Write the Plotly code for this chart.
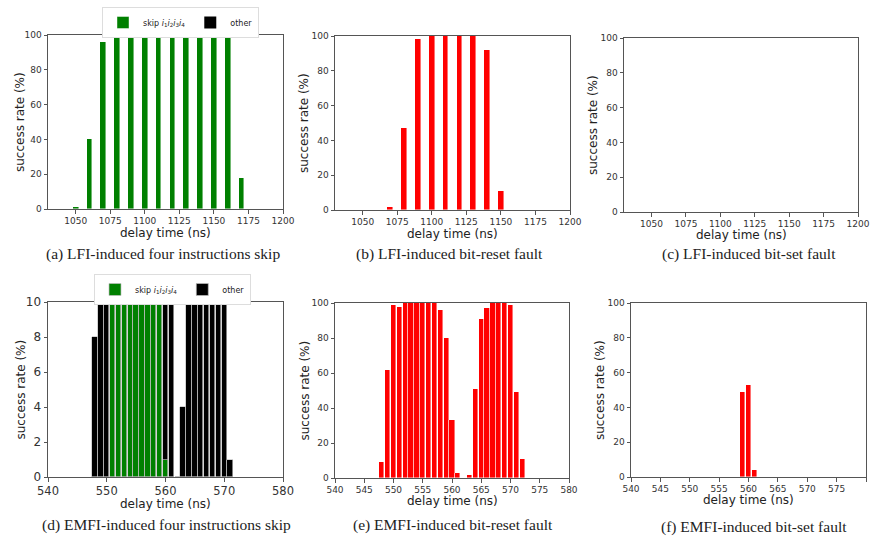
import plotly.graph_objects as go

# ---------------- data ----------------
lfi_delays = [1050, 1060, 1070, 1080, 1090, 1100, 1110, 1120, 1130, 1140, 1150, 1160, 1170]
lfi_skip = [1, 40, 96, 100, 100, 100, 100, 100, 100, 100, 100, 100, 18]
lfi_other = [0, 0, 0, 0, 0, 0, 0, 0, 0, 0, 0, 0, 0]

lfi_reset_delays = [1070, 1080, 1090, 1100, 1110, 1120, 1130, 1140, 1150]
lfi_reset = [2, 47, 98, 100, 100, 100, 100, 92, 11]

lfi_set_delays = []
lfi_set = []

emfi_delays = [548, 549, 550, 551, 552, 553, 554, 555, 556, 557, 558, 559,
               560, 561, 562, 563, 564, 565, 566, 567, 568, 569, 570, 571]
emfi_skip = [0, 0, 0, 100, 100, 100, 100, 100, 100, 100, 100, 100,
             1, 0, 0, 0, 0, 0, 0, 0, 0, 0, 0, 0]
emfi_other = [8, 60, 97, 0, 0, 0, 0, 0, 0, 0, 0, 0,
              30, 20, 0, 4, 50, 90, 97, 100, 100, 100, 99, 1]

emfi_reset_delays = [548, 549, 550, 551, 552, 553, 554, 555, 556, 557, 558, 559, 560,
                     561, 562, 563, 564, 565, 566, 567, 568, 569, 570, 571, 572]
emfi_reset = [9, 62, 99, 98, 100, 100, 100, 100, 100, 100, 96, 80, 33,
              3, 0, 2, 51, 91, 97, 100, 100, 100, 99, 49, 11]

emfi_set_delays = [559, 560, 561]
emfi_set = [49, 53, 4]

lfi_ticks = [1050, 1075, 1100, 1125, 1150, 1175, 1200]
emfi_ticks_coarse = [540, 550, 560, 570, 580]
emfi_ticks_fine = [540, 545, 550, 555, 560, 565, 570, 575, 580]

captions = [
    "(a) LFI-induced four instructions skip",
    "(b) LFI-induced bit-reset fault",
    "(c) LFI-induced bit-set fault",
    "(d) EMFI-induced four instructions skip",
    "(e) EMFI-induced bit-reset fault",
    "(f) EMFI-induced bit-set fault",
]
x_title = "delay time (ns)"
y_title = "success rate (%)"

SKIP_NAME = "skip <i>i</i><sub>1</sub><i>i</i><sub>2</sub><i>i</i><sub>3</sub><i>i</i><sub>4</sub>"

# ---------------- layout helpers ----------------
W, H = 871, 540

def xd(l, r):
    return [l / W, r / W]

def yd(t, b):
    return [1 - b / H, 1 - t / H]

panels = {
    1: dict(x=(48, 283), y=(35, 209)),
    2: dict(x=(335, 570), y=(36, 210)),
    3: dict(x=(624, 858), y=(38, 212)),
    4: dict(x=(48, 283), y=(302, 477)),
    5: dict(x=(335, 569), y=(303, 478)),
    6: dict(x=(631, 866), y=(303, 477)),
}
# axis-title centres (pixels): x-title y position, y-title x position
xtitle_y = {1: 233, 2: 234, 3: 235, 4: 504, 5: 501, 6: 500}
ytitle_x = {1: 20, 2: 304, 3: 593, 4: 20, 5: 304, 6: 600}

GREEN = "#008000"
RED = "#ff0000"
BLACK = "#000000"
EDGE = "rgba(255,255,255,0.55)"
DEDGE = "rgba(190,190,190,0.85)"

fig = go.Figure()

def ax(n):
    return ("x" if n == 1 else f"x{n}"), ("y" if n == 1 else f"y{n}")

# (a)
xa, ya = ax(1)
fig.add_trace(go.Bar(x=lfi_delays, y=lfi_skip, width=4.2, marker=dict(color=GREEN, line=dict(color=EDGE, width=0.8)),
                     name=SKIP_NAME, xaxis=xa, yaxis=ya, legend="legend"))
fig.add_trace(go.Bar(x=lfi_delays, y=lfi_other, width=4.2, marker=dict(color=BLACK, line=dict(width=0)),
                     name="other", xaxis=xa, yaxis=ya, legend="legend"))
# (b)
xa, ya = ax(2)
fig.add_trace(go.Bar(x=lfi_reset_delays, y=lfi_reset, width=4.2, marker=dict(color=RED, line=dict(color=EDGE, width=0.8)),
                     showlegend=False, xaxis=xa, yaxis=ya))
# (c)
xa, ya = ax(3)
fig.add_trace(go.Bar(x=lfi_set_delays, y=lfi_set, width=4.2, marker=dict(color=RED),
                     showlegend=False, xaxis=xa, yaxis=ya))
# (d)
xa, ya = ax(4)
fig.add_trace(go.Bar(x=emfi_delays, y=emfi_skip, width=0.92, marker=dict(color=GREEN, line=dict(color=DEDGE, width=0.8)),
                     name=SKIP_NAME, xaxis=xa, yaxis=ya, legend="legend2"))
fig.add_trace(go.Bar(x=emfi_delays, y=emfi_other, width=0.92, marker=dict(color=BLACK, line=dict(color=DEDGE, width=0.8)),
                     name="other", xaxis=xa, yaxis=ya, legend="legend2"))
# (e)
xa, ya = ax(5)
fig.add_trace(go.Bar(x=emfi_reset_delays, y=emfi_reset, width=0.9, marker=dict(color=RED, line=dict(color=EDGE, width=0.8)),
                     showlegend=False, xaxis=xa, yaxis=ya))
# (f)
xa, ya = ax(6)
fig.add_trace(go.Bar(x=emfi_set_delays, y=emfi_set, width=0.9, marker=dict(color=RED, line=dict(color=EDGE, width=0.8)),
                     showlegend=False, xaxis=xa, yaxis=ya))

AXCOL = "#555555"
TICKCOL = "#333333"
TITLEFONT = dict(family="DejaVu Sans", size=12, color="#222222")

def axis_common(tickfont_size):
    return dict(showline=True, linecolor=AXCOL, linewidth=1, mirror=True,
                ticks="outside", ticklen=3.5, tickcolor=AXCOL, tickwidth=1,
                showgrid=False, zeroline=False, automargin=False,
                tickfont=dict(family="DejaVu Sans", size=tickfont_size, color=TICKCOL))

layout = dict(
    width=W, height=H, margin=dict(l=0, r=0, t=0, b=0, autoexpand=False),
    paper_bgcolor="white", plot_bgcolor="white", barmode="stack", bargap=0,
    font=dict(family="DejaVu Sans"),
)

xconf = {
    1: dict(range=[1030, 1200], tickvals=lfi_ticks, fs=9),
    2: dict(range=[1030, 1200], tickvals=lfi_ticks, fs=9),
    3: dict(range=[1030, 1200], tickvals=lfi_ticks, fs=9),
    4: dict(range=[540, 580], tickvals=emfi_ticks_coarse, fs=11.5),
    5: dict(range=[540, 580], tickvals=emfi_ticks_fine, fs=9),
    6: dict(range=[540, 580], tickvals=emfi_ticks_fine, fs=9),
}
yconf = {
    1: dict(range=[0, 100], dtick=20, fs=9),
    2: dict(range=[0, 100], dtick=20, fs=9),
    3: dict(range=[0, 100], dtick=20, fs=9),
    4: dict(range=[0, 10], dtick=2, fs=12),
    5: dict(range=[0, 100], dtick=20, fs=9),
    6: dict(range=[0, 100], dtick=20, fs=9),
}

for n, p in panels.items():
    xk = "xaxis" if n == 1 else f"xaxis{n}"
    yk = "yaxis" if n == 1 else f"yaxis{n}"
    xa = axis_common(xconf[n]["fs"])
    xa.update(domain=xd(*p["x"]), range=xconf[n]["range"], tickmode="array",
              tickvals=xconf[n]["tickvals"], anchor=("y" if n == 1 else f"y{n}"))
    ya = axis_common(yconf[n]["fs"])
    ya.update(domain=yd(*p["y"]), range=yconf[n]["range"], dtick=yconf[n]["dtick"], tick0=0,
              anchor=("x" if n == 1 else f"x{n}"))
    layout[xk] = xa
    layout[yk] = ya

legend_common = dict(orientation="h", xanchor="left", yanchor="top", traceorder="normal",
                     bordercolor="#dddddd", borderwidth=1, bgcolor="white",
                     font=dict(family="DejaVu Sans", size=8, color="#222"),
                     itemwidth=30)
layout["legend"] = dict(x=102 / W, y=1 - 7 / H, **legend_common)
layout["legend2"] = dict(x=94 / W, y=1 - 274 / H, **legend_common)

fig.update_layout(**layout)

# axis titles
for n, p in panels.items():
    cx = (p["x"][0] + p["x"][1]) / 2
    fig.add_annotation(text=x_title, x=cx / W, y=1 - xtitle_y[n] / H, xref="paper", yref="paper",
                       showarrow=False, xanchor="center", yanchor="middle", font=TITLEFONT)
    cy = (p["y"][0] + p["y"][1]) / 2
    fig.add_annotation(text=y_title, x=ytitle_x[n] / W, y=1 - cy / H, xref="paper", yref="paper",
                       showarrow=False, xanchor="center", yanchor="middle", textangle=-90, font=TITLEFONT)

cap_pos = [(163, 254), (450, 254), (749, 254), (166, 525), (453, 525), (754, 527)]
for text, (cx, cy) in zip(captions, cap_pos):
    fig.add_annotation(text=text, x=cx / W, y=1 - cy / H, xref="paper", yref="paper",
                       showarrow=False, xanchor="center", yanchor="middle",
                       font=dict(family="Liberation Serif", size=15.5, color="#222"))

fig.write_html("out.html", config={"displayModeBar": False},
               post_script="document.body.style.margin='0';")
